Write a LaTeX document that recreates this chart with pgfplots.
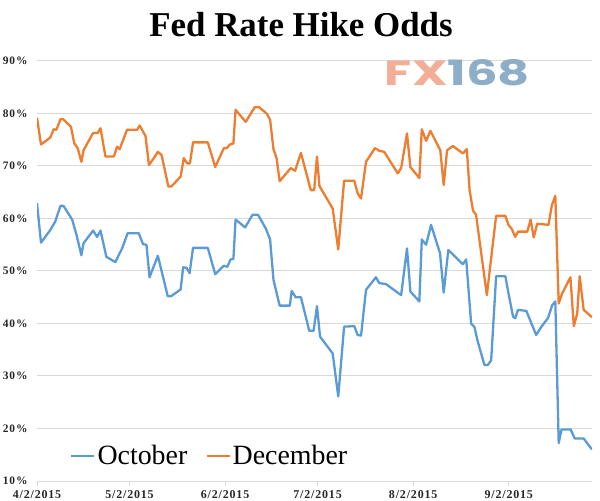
\documentclass[border=0pt]{standalone}
\usepackage{fontspec}
\usepackage{graphicx}
\usepackage{pgfplots}
\pgfplotsset{compat=1.18}
\setmainfont{Liberation Serif}
\newfontfamily\fxfont{Poppins}
\newfontfamily\tickfont{Liberation Serif}[LetterSpace=7]

\definecolor{octblue}{HTML}{5B9BD5}
\definecolor{decorange}{HTML}{ED7D31}
\definecolor{gridgray}{HTML}{D9D9D9}
\definecolor{fxsalmon}{HTML}{F2AE96}
\definecolor{fxblue}{HTML}{8EAEC8}

\begin{document}
\begin{tikzpicture}
\path[use as bounding box] (0,0) rectangle (600bp,501bp);
\begin{axis}[
  at={(37bp,20bp)}, anchor=south west,
  scale only axis, width=555bp, height=420bp,
  xmin=0, xmax=180, ymin=10, ymax=90,
  xtick={0,30,61,91,122,153},
  xticklabels={4/2/2015,5/2/2015,6/2/2015,7/2/2015,8/2/2015,9/2/2015},
  ytick={10,20,...,90},
  yticklabel={\pgfmathprintnumber{\tick}\%},
  /pgf/number format/assume math mode=true,
  ticklabel style={text=black!85},
  x tick label style={font=\tickfont\bfseries\fontsize{12}{14}\selectfont, yshift=-1bp},
  y tick label style={font=\tickfont\bfseries\fontsize{11.5}{13}\selectfont, xshift=-1bp},
  tick align=outside, tick pos=lower,
  major tick length=5bp,
  xtick style={draw=gridgray, line width=0.8bp},
  ytick style={draw=none},
  axis line style={draw=none},
  ymajorgrids, grid style={draw=gridgray, line width=1bp},
  every axis plot/.append style={line width=2.3bp, line join=round, mark=none},
  legend columns=2,
  legend cell align=left,
  legend image code/.code={\draw[#1] (0bp,0bp) -- (23bp,0bp);},
  legend style={draw=none, fill=none, inner sep=0pt,
    at={(axis description cs:0.0595,0.0595)}, anchor=west,
    font=\fontsize{28}{30}\selectfont,
    nodes={inner sep=2bp},
    /tikz/every even column/.append style={column sep=16bp}},
]
\addplot[octblue] coordinates {
(0,62.9)(1.3,55.4)(4.3,57.8)(5.9,59.4)(7.6,62.4)(8.6,62.4)(11.4,59.8)(12.8,56.9)(14.4,53.0)(15.1,55.3)
(18.2,57.7)(19.5,56.5)(20.6,57.7)(22.5,52.7)(25.4,51.7)(27.6,54.3)(29.4,57.2)(33.0,57.2)(34.4,55.1)(35.5,55.0)
(36.5,48.8)(39.2,52.9)(42.4,45.2)(43.5,45.2)(46.6,46.5)(47.4,50.7)(48.5,50.6)(49.5,49.6)(50.6,54.4)(55.4,54.4)
(57.8,49.4)(60.6,51.0)(61.7,50.8)(62.8,52.2)(63.7,52.3)(64.4,59.8)(67.5,58.3)(69.9,60.7)(71.7,60.7)(74.2,58.1)
(75.6,56.0)(76.7,48.3)(78.7,43.4)(82.0,43.4)(82.6,46.2)(83.9,45.0)(85.6,45.0)(88.3,38.6)(89.7,38.6)(90.8,43.3)
(91.8,37.5)(95.9,34.3)(97.7,26.1)(99.6,39.4)(102.9,39.5)(104.0,37.8)(105.1,37.7)(106.7,46.4)(109.9,48.8)(111.0,47.7)
(113.2,47.5)(118.1,45.4)(120.0,54.3)(121.1,46.1)(124.0,44.2)(124.8,56.0)(126.2,55.0)(127.8,58.8)(130.7,53.4)(131.9,45.9)
(133.4,54.0)(138.1,51.3)(139.2,52.2)(140.8,40.0)(141.9,39.3)(142.8,36.9)(145.1,32.1)(146.2,32.1)(147.3,33.0)(148.9,49.0)
(151.9,49.0)(152.9,45.8)(154.4,41.3)(155.1,41.0)(156.0,42.6)(158.7,42.4)(161.9,37.8)(163.6,39.4)(165.7,41.0)(167.1,43.5)
(168.1,44.2)(169.2,17.2)(170.1,19.8)(173.1,19.8)(174.4,18.1)(177.3,18.1)(180,16.0)
};
\addlegendentry{October}
\addplot[decorange] coordinates {
(0,79.2)(1.3,74.1)(4.3,75.4)(5.4,77.0)(6.3,76.9)(7.6,78.9)(8.5,78.9)(11.0,77.5)(12.1,74.3)(13.2,73.4)
(14.4,70.8)(15.1,73.0)(18.2,76.3)(19.7,76.3)(20.6,77.2)(22.2,71.8)(24.9,71.8)(26.0,73.7)(26.8,73.2)(29.2,76.9)
(32.5,76.9)(33.3,77.7)(35.2,75.7)(36.3,70.2)(37.9,71.5)(39.2,72.7)(40.4,72.1)(42.6,66.1)(43.6,66.1)(46.6,68.0)
(47.6,71.5)(48.7,70.5)(49.6,70.5)(50.6,74.5)(55.4,74.5)(57.8,69.8)(60.6,73.4)(61.5,73.4)(62.6,74.1)(63.7,74.3)
(64.4,80.7)(67.7,78.4)(70.6,81.2)(72.0,81.2)(74.5,80.0)(75.6,78.8)(76.7,73.2)(77.7,71.5)(78.7,67.1)(82.3,69.6)
(83.7,69.1)(85.6,72.5)(88.8,65.4)(89.9,65.4)(90.8,71.8)(91.6,66.2)(95.9,61.9)(97.7,54.1)(99.6,67.2)(102.9,67.2)
(104.0,64.8)(105.1,63.8)(106.7,70.8)(109.6,73.4)(111.0,72.9)(112.6,72.7)(117.0,68.6)(118.1,69.6)(120.0,76.2)(121.1,69.8)
(124.0,67.7)(124.8,77.0)(126.2,74.8)(127.6,76.7)(129.1,74.95)(130.8,73.0)(131.9,66.4)(133.0,73.0)(134.9,73.8)(138.1,72.4)
(139.4,73.2)(140.3,65.4)(141.4,61.5)(142.4,60.7)(145.9,45.4)(148.9,60.5)(151.9,60.5)(152.9,58.8)(154.0,58.0)(155.1,56.5)
(156.0,57.5)(159.0,57.5)(160.1,59.8)(161.1,56.4)(162.2,59.0)(165.9,58.8)(167.0,62.6)(168.1,64.3)(169.2,43.8)(170.3,45.7)
(173.0,48.8)(174.1,39.5)(175.2,41.9)(176.0,49.0)(177.3,42.6)(180,41.2)
};
\addlegendentry{December}
\end{axis}
\node[anchor=base, inner sep=0pt, font=\bfseries\fontsize{35}{40}\selectfont]
  at (301bp,464bp) {Fed Rate Hike Odds};
\node[inner sep=0pt] at (457.5bp,428bp)
  {\resizebox{145bp}{26bp}{\fxfont\bfseries\textcolor{fxsalmon}{FX}\textcolor{fxblue}{168}}};
\end{tikzpicture}
\end{document}
